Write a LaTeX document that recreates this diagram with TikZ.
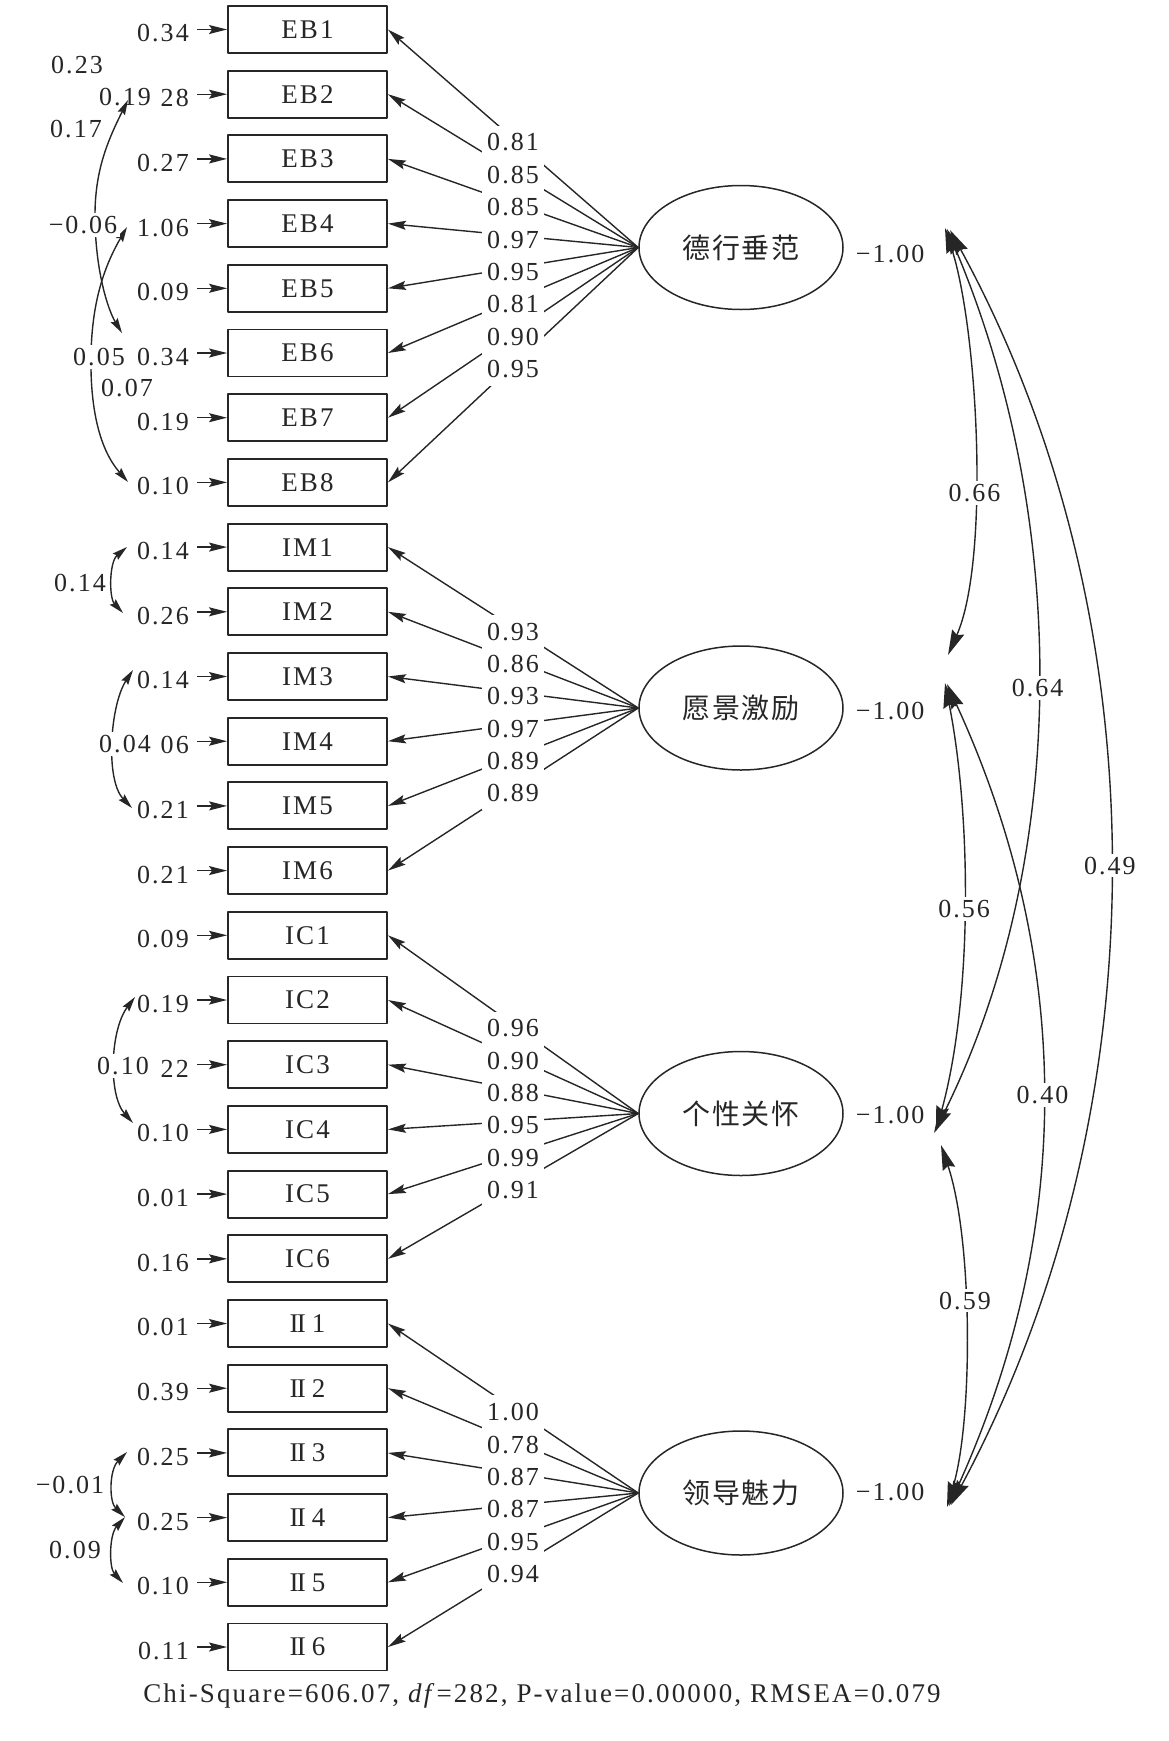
\documentclass[tikz,border=0pt]{standalone}
\usepackage{fontspec}
\setmainfont[LetterSpace=8]{Liberation Serif}
\newfontfamily\plainserif{Liberation Serif}
\newfontfamily\cjk[LetterSpace=6]{Noto Sans CJK SC}
\usetikzlibrary{arrows.meta,calc,shapes.geometric}
\definecolor{ink}{HTML}{262626}
\newcommand\IIlab[1]{{\plainserif I\kern-1.6pt I}\hspace{6pt}#1}
\begin{document}
\begin{tikzpicture}[x=1pt,y=-1pt,line join=round,
  every node/.style={text=ink},
  numt/.style={font=\fontsize{26}{28}\selectfont, inner sep=0pt},
  mbox/.style={draw=ink, line width=1.9pt, minimum width=159pt, minimum height=47pt, inner sep=0pt, font=\fontsize{27}{29}\selectfont},
  latv/.style={draw=ink, ellipse, line width=1.5pt, minimum width=204pt, minimum height=124pt, inner sep=0pt, font=\cjk\fontsize{28}{30}\selectfont},
  loadln/.style={draw=ink, line width=1.4pt, -{Stealth[length=18pt,width=9pt,inset=3pt]}},
  errln/.style={draw=ink, line width=1.4pt, -{Stealth[length=18pt,width=9pt,inset=3pt]}},
  covl/.style={draw=ink, line width=1.4pt, {Stealth[length=15pt,width=8pt,inset=2pt]}-{Stealth[length=15pt,width=8pt,inset=2pt]}},
  corr/.style={draw=ink, line width=1.4pt, {Stealth[length=25pt,width=13pt,inset=3pt]}-{Stealth[length=25pt,width=13pt,inset=3pt]}},
  loadlab/.style={numt, fill=white, inner xsep=5pt, inner ysep=8pt},
  whitelab/.style={numt, fill=white, inner sep=3pt},
  hidelab/.style={numt, fill=white, inner xsep=6pt, inner ysep=3pt},
  freelab/.style={numt}
]
\useasboundingbox (0,0) rectangle (1169,1741);

% observed variables, errors
\foreach \i/\nm/\er in {
 0/EB1/0.34, 1/EB2/0.28, 2/EB3/0.27, 3/EB4/1.06, 4/EB5/0.09, 5/EB6/0.34, 6/EB7/0.19, 7/EB8/0.10,
 8/IM1/0.14, 9/IM2/0.26, 10/IM3/0.14, 11/IM4/0.06, 12/IM5/0.21, 13/IM6/0.21,
 14/IC1/0.09, 15/IC2/0.19, 16/IC3/0.22, 17/IC4/0.10, 18/IC5/0.01, 19/IC6/0.16,
 20/\IIlab1/0.01, 21/\IIlab2/0.39, 22/\IIlab3/0.25, 23/\IIlab4/0.25, 24/\IIlab5/0.10, 25/\IIlab6/0.11}
{
  \pgfmathsetmacro\yy{29.5+64.7*\i}
  \node[mbox] (b\i) at (307.5,\yy) {\nm};
  \node[numt, anchor=east] (e\i) at (189,\yy+4) {\er};
  \coordinate (s\i) at (197,\yy);
  \draw[errln] (s\i) -- (b\i.west);
}

% latent variables
\node[latv] (L1) at (741,247.5) {德行垂范};
\node[latv] (L2) at (741,708) {愿景激励};
\node[latv] (L3) at (741,1113.5) {个性关怀};
\node[latv] (L4) at (741,1493) {领导魅力};
\foreach \g/\dy in {1/7,2/3,3/2,4/-1}{
  \node[numt, anchor=west] (v\g) at ($(L\g.east)+(12,\dy)$) {−1.00};
}

% loadings
\foreach \i/\g in {0/1,1/1,2/1,3/1,4/1,5/1,6/1,7/1,8/2,9/2,10/2,11/2,12/2,13/2,
  14/3,15/3,16/3,17/3,18/3,19/3,20/4,21/4,22/4,23/4,24/4,25/4}{
  \draw[loadln] (L\g.west) -- (b\i.east);
}
\foreach \i/\g/\v in {0/1/0.81,1/1/0.85,2/1/0.85,3/1/0.97,4/1/0.95,5/1/0.81,6/1/0.90,7/1/0.95,
  8/2/0.93,9/2/0.86,10/2/0.93,11/2/0.97,12/2/0.89,13/2/0.89,
  14/3/0.96,15/3/0.90,16/3/0.88,17/3/0.95,18/3/0.99,19/3/0.91,
  20/4/1.00,21/4/0.78,22/4/0.87,23/4/0.87,24/4/0.95,25/4/0.94}{
  \node[loadlab] (m\i) at ($(L\g.west)!0.5!(b\i.east)+(0,4)$) {\v};
}

% error covariance labels (under curves)
\node[hidelab] (k19) at (125,97) {0.19};
\node[freelab] (k23) at (77,65) {0.23};
\node[freelab] (k17) at (76,129) {0.17};
\node[freelab] (k07) at (127,388) {0.07};
\node[freelab] (k14) at (80,583) {0.14};
\node[freelab] (k01) at (70,1485) {−0.01};
\node[freelab] (k09) at (75,1550) {0.09};

% error covariance curves
\coordinate (ca1) at (128,100);  \coordinate (ca2) at (122,333);
\coordinate (cb1) at (127,227);  \coordinate (cb2) at (128,482);
\coordinate (cc1) at (127,547);  \coordinate (cc2) at (123,613);
\coordinate (cd1) at (133,670);  \coordinate (cd2) at (132,808);
\coordinate (ce1) at (135,997);  \coordinate (ce2) at (133,1123);
\coordinate (cf1) at (127,1452); \coordinate (cf2) at (125,1517);
\coordinate (cg1) at (125,1517); \coordinate (cg2) at (123,1583);
\draw[covl] (ca1) .. controls (108,140) and (95,170) .. (95,215) .. controls (95,270) and (108,310) .. (ca2);
\draw[covl] (cb1) .. controls (105,265) and (92,300) .. (91,355) .. controls (90,410) and (100,450) .. (cb2);
\draw[covl] (cc1) .. controls (109,562) and (109,598) .. (cc2);
\draw[covl] (cd1) .. controls (110,705) and (105,780) .. (cd2);
\draw[covl] (ce1) .. controls (110,1030) and (108,1095) .. (ce2);
\draw[covl] (cf1) .. controls (109,1470) and (109,1502) .. (cf2);
\draw[covl] (cg1) .. controls (109,1535) and (109,1568) .. (cg2);

% labels over curves
\node[whitelab] (k06) at (83,225) {−0.06};
\node[whitelab] (k05) at (99,357) {0.05};
\node[hidelab] (k04) at (125,744) {0.04};
\node[hidelab, inner xsep=8pt] (k10) at (123,1066) {0.10};

% latent correlations
\coordinate (g1a) at (945,228); \coordinate (g1b) at (947,229); \coordinate (g1c) at (950,230);
\coordinate (g2i) at (948,655); \coordinate (g2o) at (945,683); \coordinate (g2p) at (947,684);
\coordinate (g3i) at (934,1133); \coordinate (g3j) at (936,1131); \coordinate (g3o) at (941,1145);
\coordinate (g4a) at (947,1507); \coordinate (g4b) at (949,1506); \coordinate (g4c) at (951,1505);
\draw[corr] (g1c) .. controls (1163,620) and (1163,1110) .. node[pos=.5, whitelab] (r49) {0.49} (g4c);
\draw[corr] (g1b) .. controls (1070,520) and (1070,860) .. node[pos=.5, whitelab] (r64) {0.64} (g3i);
\draw[corr] (g2p) .. controls (1074,960) and (1074,1230) .. node[pos=.5, whitelab] (r40) {0.40} (g4b);
\draw[corr] (g1a) .. controls (978,330) and (990,560) .. node[pos=.6, whitelab] (r66) {0.66} (g2i);
\draw[corr] (g2o) .. controls (972,820) and (972,1000) .. node[pos=.5, whitelab] (r56) {0.56} (g3j);
\draw[corr] (g3o) .. controls (973,1240) and (973,1420) .. node[pos=.43, whitelab] (r59) {0.59} (g4a);

% fit statistics
\node[numt, font=\fontsize{27}{29}\selectfont] (fit) at (542,1696) {Chi-Square=606.07, \textit{df}=282, P-value=0.00000, RMSEA=0.079};
\end{tikzpicture}
\end{document}
